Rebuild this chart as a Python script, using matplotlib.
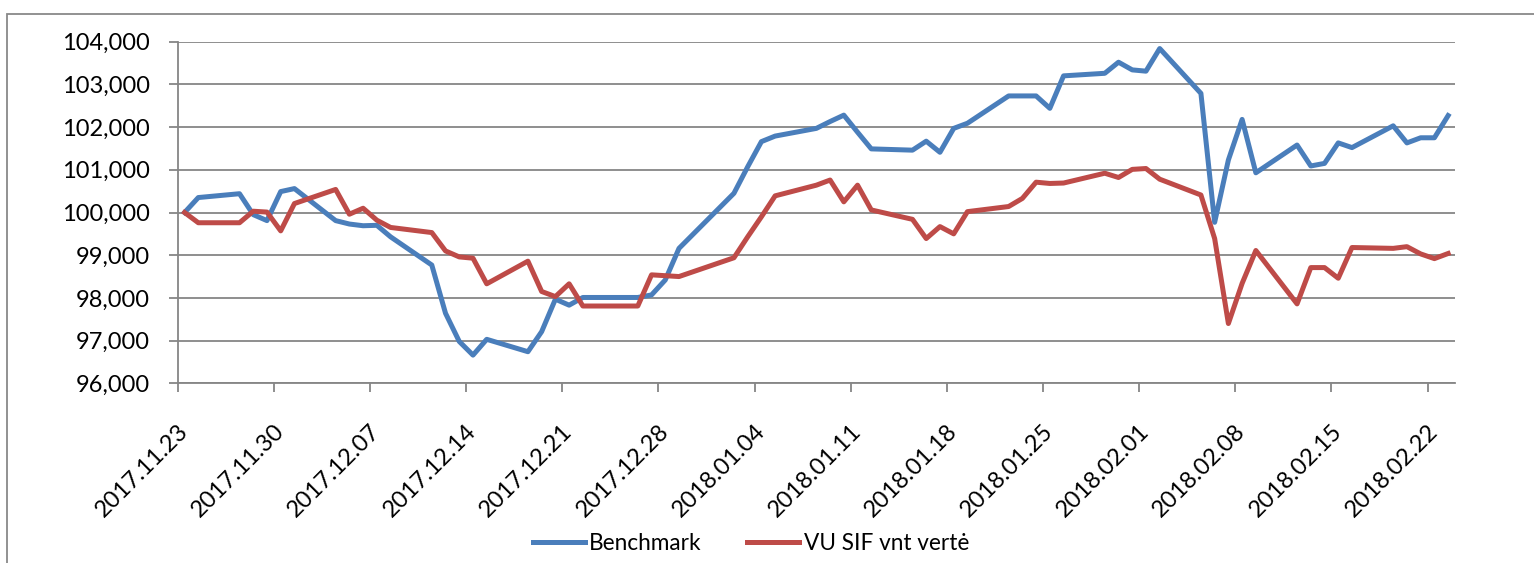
import matplotlib
matplotlib.use("Agg")
import matplotlib.pyplot as plt
import matplotlib.ticker as mticker
from matplotlib.patches import Rectangle
import pandas as pd

# duomenys (nuskaityta nuo paveikslo)
dates = [
    "2017-11-23", "2017-11-24", "2017-11-27", "2017-11-28", "2017-11-29", "2017-11-30",
    "2017-12-01", "2017-12-04", "2017-12-05", "2017-12-06", "2017-12-07", "2017-12-08",
    "2017-12-11", "2017-12-12", "2017-12-13", "2017-12-14", "2017-12-15", "2017-12-18",
    "2017-12-19", "2017-12-20", "2017-12-21", "2017-12-22", "2017-12-25", "2017-12-26",
    "2017-12-27", "2017-12-28", "2017-12-29", "2018-01-02", "2018-01-03", "2018-01-04",
    "2018-01-05", "2018-01-08", "2018-01-09", "2018-01-10", "2018-01-11", "2018-01-12",
    "2018-01-15", "2018-01-16", "2018-01-17", "2018-01-18", "2018-01-19", "2018-01-22",
    "2018-01-23", "2018-01-24", "2018-01-25", "2018-01-26", "2018-01-29", "2018-01-30",
    "2018-01-31", "2018-02-01", "2018-02-02", "2018-02-05", "2018-02-06", "2018-02-07",
    "2018-02-08", "2018-02-09", "2018-02-12", "2018-02-13", "2018-02-14", "2018-02-15",
    "2018-02-16", "2018-02-19", "2018-02-20", "2018-02-21", "2018-02-22", "2018-02-23",
]
benchmark = [
    100000, 100350, 100440, 99950, 99810, 100490, 100560, 99810, 99730, 99690,
    99700, 99430, 98770, 97640, 96980, 96660, 97030, 96740, 97210, 97970,
    97830, 98010, 98010, 98010, 98070, 98420, 99160, 100450, 101070, 101660,
    101790, 101970, 102130, 102280, 101880, 101490, 101460, 101670, 101410, 101970,
    102090, 102730, 102730, 102730, 102440, 103200, 103260, 103520, 103340, 103310,
    103840, 102790, 99770, 101230, 102180, 100930, 101580, 101090, 101150, 101630,
    101520, 102030, 101630, 101750, 101750, 102270,
]
vu_sif = [
    100000, 99760, 99760, 100030, 100010, 99570, 100210, 100540, 99960, 100100,
    99820, 99650, 99530, 99100, 98960, 98930, 98330, 98860, 98150, 98030,
    98330, 97810, 97810, 97810, 98540, 98520, 98500, 98940, 99430, 99900,
    100390, 100640, 100760, 100250, 100640, 100060, 99840, 99390, 99670, 99500,
    100020, 100140, 100330, 100710, 100680, 100690, 100920, 100820, 101010, 101030,
    100780, 100410, 99390, 97400, 98340, 99110, 97860, 98710, 98710, 98460,
    99180, 99160, 99200, 99030, 98920, 99040,
]
series_names = ["Benchmark", "VU SIF vnt vertė"]
y_ticks = [96000, 97000, 98000, 99000, 100000, 101000, 102000, 103000, 104000]

plt.rcParams["font.family"] = ["Lato", "DejaVu Sans"]

x = pd.to_datetime(dates)
half = pd.Timedelta(hours=12)
label_dates = pd.date_range("2017-11-23", "2018-02-22", freq="7D")

W, H = 1534, 563
fig = plt.figure(figsize=(W / 100, H / 100), dpi=100)
ax = fig.add_axes([177.7 / W, 1 - 383.3 / H, (1455 - 177.7) / W, (383.3 - 41.7) / H])

grey = "#868686"
ax.plot(x, benchmark, color="#4A7EBB", lw=3.6, label=series_names[0], solid_joinstyle="round")
ax.plot(x, vu_sif, color="#BE4B48", lw=3.6, label=series_names[1], solid_joinstyle="round")

ax.set_xlim(x[0] - half, x[-1] + half)
ax.set_ylim(96000, 104000)
ax.set_yticks(y_ticks)
ax.yaxis.set_major_formatter(mticker.FuncFormatter(lambda v, p: f"{int(v):,}"))
ax.grid(axis="y", color=grey, lw=1.3)
ax.set_axisbelow(True)

ax.set_xticks(label_dates)
ax.set_xticklabels([d.strftime("%Y.%m.%d") for d in label_dates],
                   rotation=45, ha="right", va="center", rotation_mode="anchor")
ax.set_xticks(label_dates - half, minor=True)
ax.tick_params(axis="x", which="major", length=0, pad=32, labelsize=17)
ax.tick_params(axis="x", which="minor", length=6.5, width=1.3, color=grey)
ax.tick_params(axis="y", length=6.5, width=1.3, color=grey, pad=13.7, labelsize=17)

for s in ("top", "right"):
    ax.spines[s].set_visible(False)
for s in ("left", "bottom"):
    ax.spines[s].set_color(grey)
    ax.spines[s].set_linewidth(1.3)

fig.legend(loc="center", bbox_to_anchor=(751 / W, 1 - 543 / H), ncol=2, frameon=False,
           fontsize=16.3, handlelength=2.3, handletextpad=0.2, columnspacing=2.0)

# rėmelis aplink diagramą
fig.add_artist(Rectangle((6.5 / W, -0.1), 1.2, 1 - 14 / H + 0.1, transform=fig.transFigure,
                         fill=False, edgecolor="#898989", lw=1.3))

fig.savefig("out.png", dpi=100)
